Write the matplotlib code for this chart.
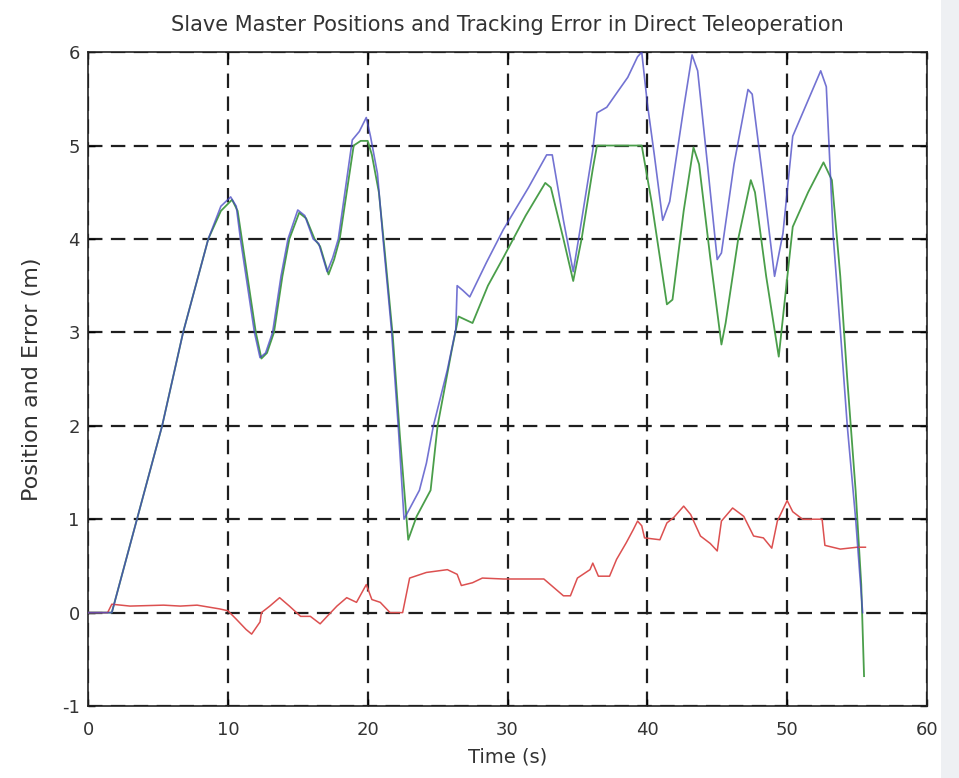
import matplotlib
matplotlib.use("Agg")
import matplotlib.pyplot as plt
from matplotlib.patches import Rectangle

# master position (m)
master_t = [0, 1.7, 3.5, 5.3, 6.8, 8.6, 9.5, 10.2, 10.6, 10.9, 11.4, 11.9, 12.3, 12.7,
            13.2, 13.8, 14.3, 15.0, 15.5, 16.1, 16.5, 17.1, 17.5, 17.9, 18.9, 19.4,
            19.9, 20.2, 20.7, 21.1, 21.7, 22.2, 22.6, 23.7, 24.2, 24.7, 25.7, 26.3,
            26.4, 26.8, 27.3, 28.5, 29.7, 31.5, 32.8, 33.2, 34.0, 34.7, 35.3, 36.1,
            36.4, 37.1, 37.8, 38.6, 39.3, 39.6, 40.0, 40.5, 41.1, 41.6, 42.6, 43.2,
            43.6, 44.3, 45.0, 45.3, 46.2, 47.2, 47.5, 48.3, 49.1, 49.7, 50.4, 51.4,
            52.4, 52.8, 53.3, 53.8, 54.3, 54.9, 55.4]
master_y = [0, 0, 1.0, 2.0, 3.0, 4.0, 4.35, 4.45, 4.35, 4.0, 3.5, 3.0, 2.73, 2.78,
            3.0, 3.6, 4.0, 4.31, 4.25, 4.0, 3.95, 3.65, 3.8, 4.0, 5.06, 5.15,
            5.3, 5.1, 4.7, 4.0, 3.03, 1.96, 1.0, 1.31, 1.6, 2.0, 2.6, 3.03,
            3.5, 3.45, 3.38, 3.75, 4.1, 4.55, 4.9, 4.9, 4.2, 3.65, 4.2, 4.95,
            5.35, 5.41, 5.56, 5.73, 5.95, 6.0, 5.45, 4.9, 4.2, 4.4, 5.4, 5.97,
            5.8, 4.8, 3.78, 3.85, 4.8, 5.6, 5.55, 4.6, 3.6, 4.06, 5.1, 5.45,
            5.8, 5.63, 4.02, 3.03, 2.0, 1.0, 0.0]

# slave position (m)
slave_t = [0, 1.7, 3.5, 5.3, 6.8, 8.6, 9.5, 10.3, 10.7, 11.0, 11.5, 12.0, 12.4, 12.8,
           13.3, 13.9, 14.4, 15.1, 15.6, 16.2, 16.6, 17.2, 17.6, 18.0, 19.0, 19.5,
           20.0, 20.3, 20.8, 21.2, 21.8, 22.3, 22.9, 23.5, 24.5, 25.0, 26.0, 26.5,
           27.5, 28.6, 29.7, 31.3, 32.7, 33.1, 34.0, 34.7, 35.3, 36.1, 36.4, 38.5,
           39.6, 40.3, 41.4, 41.8, 42.6, 43.3, 43.7, 44.5, 45.3, 45.6, 46.5, 47.4,
           47.7, 48.5, 49.4, 49.8, 50.4, 51.5, 52.6, 53.2, 53.8, 54.3, 54.9, 55.3,
           55.5]
slave_y = [0, 0, 1.0, 2.0, 3.0, 4.0, 4.3, 4.42, 4.3, 4.0, 3.5, 3.0, 2.72, 2.78,
           3.0, 3.6, 4.0, 4.28, 4.22, 4.0, 3.92, 3.62, 3.78, 4.0, 5.0, 5.05,
           5.05, 4.9, 4.5, 3.9, 2.95, 1.9, 0.78, 1.03, 1.31, 2.0, 2.8, 3.17,
           3.1, 3.5, 3.8, 4.25, 4.6, 4.55, 4.0, 3.55, 4.0, 4.75, 5.0, 5.0,
           5.0, 4.4, 3.3, 3.35, 4.3, 4.98, 4.8, 3.8, 2.87, 3.1, 4.0, 4.63,
           4.5, 3.6, 2.74, 3.3, 4.13, 4.5, 4.82, 4.63, 3.6, 2.5, 1.3, 0.3,
           -0.68]

# tracking error (m)
error_t = [0, 1.4, 1.7, 3.0, 5.4, 6.6, 7.8, 9.4, 10.0, 10.6, 11.3, 11.7, 12.3, 12.4,
           13.0, 13.7, 14.4, 15.2, 15.9, 16.6, 17.1, 17.8, 18.5, 19.2, 19.9, 20.3,
           20.9, 21.6, 22.5, 23.0, 24.2, 25.7, 26.4, 26.7, 27.5, 28.2, 29.7, 32.6,
           33.3, 34.0, 34.5, 35.0, 35.9, 36.1, 36.5, 37.3, 37.8, 38.5, 39.0, 39.3,
           39.6, 39.8, 40.9, 41.4, 41.9, 42.6, 43.1, 43.8, 44.5, 45.0, 45.3, 46.1,
           46.9, 47.6, 48.3, 48.9, 49.3, 50.0, 50.4, 51.1, 52.5, 52.7, 53.8, 55.0,
           55.6]
error_y = [0, 0, 0.09, 0.07, 0.08, 0.07, 0.08, 0.04, 0.02, -0.07, -0.18, -0.23, -0.1, 0.0,
           0.07, 0.16, 0.07, -0.04, -0.04, -0.12, -0.04, 0.07, 0.16, 0.11, 0.3, 0.14,
           0.11, 0.0, 0.0, 0.37, 0.43, 0.46, 0.41, 0.29, 0.32, 0.37, 0.36, 0.36,
           0.27, 0.18, 0.18, 0.37, 0.46, 0.53, 0.39, 0.39, 0.57, 0.75, 0.89, 0.98,
           0.93, 0.8, 0.78, 0.96, 1.02, 1.14, 1.05, 0.82, 0.74, 0.66, 0.98, 1.12,
           1.03, 0.82, 0.80, 0.69, 0.98, 1.2, 1.08, 1.0, 1.0, 0.72, 0.68, 0.7,
           0.7]

x_ticks = [0, 10, 20, 30, 40, 50, 60]
y_ticks = [-1, 0, 1, 2, 3, 4, 5, 6]

plt.rcParams['font.family'] = ['DejaVu Sans']
plt.rcParams['axes.unicode_minus'] = False
text_color = '#333333'

fig = plt.figure(figsize=(9.59, 7.78), dpi=100)
fig.patch.set_facecolor('white')
# light strip on the right edge
fig.patches.append(Rectangle((0.981, 0), 0.019, 1, transform=fig.transFigure,
                             facecolor='#eef0f3', edgecolor='none', zorder=0))

ax = fig.add_axes([0.0918, 0.0925, 0.8748, 0.8405])

ax.plot(slave_t, slave_y, color='#4a9e4a', lw=1.3, zorder=3)
ax.plot(master_t, master_y, color='#4444c4', lw=1.2, alpha=0.75, zorder=4)
ax.plot(error_t, error_y, color='#dc5050', lw=1.1, zorder=3)

ax.set_xlim(0, 60)
ax.set_ylim(-1, 6)
ax.set_xticks(x_ticks)
ax.set_yticks(y_ticks)
ax.grid(True, color='#1e1e1e', linestyle=(0, (6.5, 3.8)), linewidth=1.6)
ax.set_axisbelow(True)

ax.tick_params(direction='in', top=True, right=True, length=5, width=1,
               labelsize=13, labelcolor=text_color)
ax.tick_params(axis='x', pad=11)
ax.tick_params(axis='y', pad=6)
for s in ax.spines.values():
    s.set_linewidth(1.2)
    s.set_color('#222222')

ax.set_title('Slave Master Positions and Tracking Error in Direct Teleoperation',
             fontsize=15, color=text_color, pad=15)
ax.set_xlabel('Time (s)', fontsize=14, color=text_color, labelpad=6)
ax.set_ylabel('Position and Error (m)', fontsize=16, color=text_color, labelpad=14)

fig.savefig('out.png', dpi=100)
